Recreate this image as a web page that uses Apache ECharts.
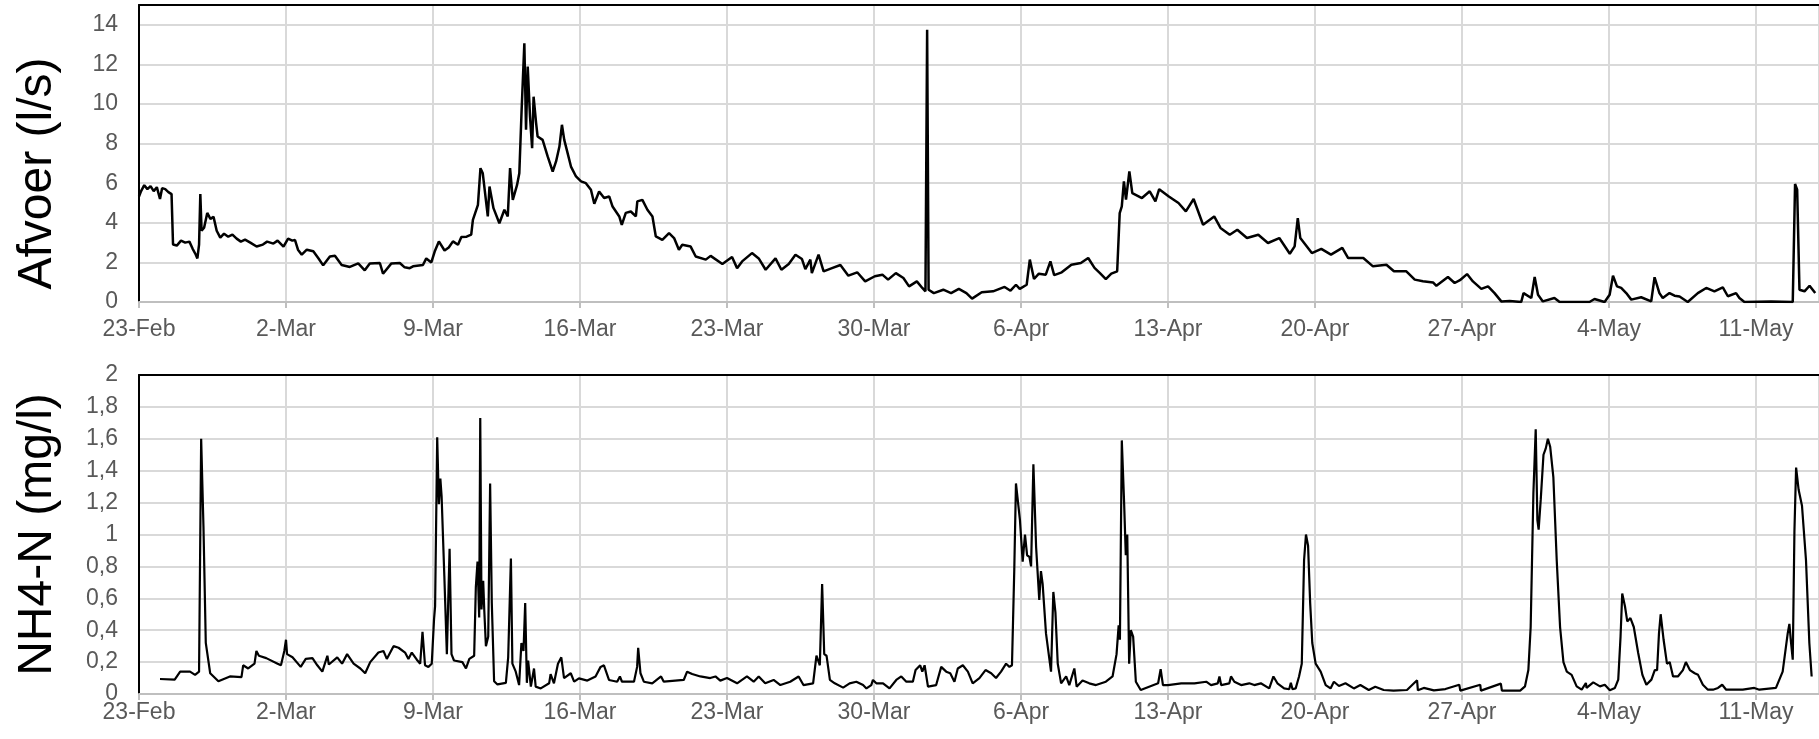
<!DOCTYPE html>
<html>
<head>
<meta charset="utf-8">
<title>Afvoer en NH4-N</title>
<script src="https://cdn.jsdelivr.net/npm/echarts@6/dist/echarts.min.js"></script>
<style>
  html, body { margin: 0; padding: 0; background: #fff; overflow: hidden; }
  #chart { width: 1819px; height: 739px; }
</style>
</head>
<body>
<div id="chart"></div>
<script>
// x-as in dagen vanaf 23-Feb, weekticks
const dateLabels = ['23-Feb', '2-Mar', '9-Mar', '16-Mar', '23-Mar', '30-Mar', '6-Apr', '13-Apr', '20-Apr', '27-Apr', '4-May', '11-May'];

// afvoer (l/s): [dag, waarde]
const afvoerData = [
  [0.0, 5.33], [0.1, 5.6], [0.25, 5.9], [0.4, 5.7], [0.55, 5.85], [0.7, 5.6], [0.85, 5.8], [1.0, 5.2], [1.1, 5.75],
  [1.25, 5.7], [1.4, 5.55], [1.55, 5.45], [1.62, 2.9], [1.8, 2.85], [2.0, 3.1], [2.2, 3.0], [2.4, 3.05], [2.55, 2.7],
  [2.7, 2.4], [2.78, 2.2], [2.86, 2.9], [2.92, 5.45], [2.98, 3.6], [3.1, 3.75], [3.25, 4.5], [3.4, 4.2], [3.55, 4.3],
  [3.7, 3.6], [3.87, 3.25], [4.05, 3.45], [4.25, 3.3], [4.45, 3.4], [4.65, 3.2], [4.85, 3.05], [5.05, 3.15], [5.3, 3.0],
  [5.6, 2.8], [5.9, 2.9], [6.1, 3.05], [6.4, 2.95], [6.6, 3.1], [6.88, 2.8], [7.1, 3.2], [7.3, 3.1], [7.43, 3.13],
  [7.57, 2.64], [7.75, 2.39], [7.99, 2.64], [8.3, 2.56], [8.55, 2.2], [8.77, 1.85], [9.09, 2.3], [9.33, 2.33],
  [9.65, 1.87], [10.04, 1.77], [10.44, 1.95], [10.75, 1.6], [10.99, 1.95], [11.47, 1.97], [11.62, 1.43], [12.02, 1.95],
  [12.42, 1.97], [12.65, 1.75], [12.89, 1.71], [13.05, 1.8], [13.52, 1.87], [13.68, 2.2], [13.92, 2.0], [14.08, 2.55],
  [14.28, 3.06], [14.55, 2.6], [14.75, 2.75], [14.95, 3.06], [15.19, 2.89], [15.35, 3.28], [15.6, 3.3], [15.82, 3.4],
  [15.9, 4.15], [16.14, 4.91], [16.26, 6.76], [16.37, 6.5], [16.61, 4.32], [16.69, 5.83], [16.88, 4.74], [17.16, 3.98],
  [17.4, 4.66], [17.56, 4.32], [17.67, 6.76], [17.8, 5.16], [18.0, 5.9], [18.11, 6.5], [18.22, 9.7], [18.35, 13.07],
  [18.43, 8.7], [18.51, 11.89], [18.62, 9.36], [18.72, 7.77], [18.79, 10.37], [18.91, 9.03], [18.98, 8.36], [19.22, 8.19],
  [19.46, 7.35], [19.7, 6.59], [19.86, 7.1], [20.02, 7.85], [20.14, 8.95], [20.25, 8.19], [20.41, 7.52], [20.57, 6.84],
  [20.81, 6.34], [21.05, 6.09], [21.28, 6.0], [21.52, 5.67], [21.68, 4.96], [21.91, 5.58], [22.15, 5.25], [22.39, 5.33],
  [22.55, 4.82], [22.87, 4.32], [22.99, 3.9], [23.18, 4.5], [23.42, 4.57], [23.66, 4.32], [23.73, 5.08], [23.97, 5.16],
  [24.21, 4.66], [24.45, 4.32], [24.61, 3.31], [24.92, 3.14], [25.24, 3.48], [25.48, 3.23], [25.71, 2.64], [25.87, 2.89],
  [26.27, 2.8], [26.51, 2.3], [26.99, 2.14], [27.22, 2.33], [27.78, 1.92], [28.24, 2.27], [28.48, 1.71], [28.72, 2.05],
  [29.19, 2.47], [29.51, 2.2], [29.84, 1.63], [30.31, 2.2], [30.59, 1.63], [30.94, 1.92], [31.26, 2.39], [31.57, 2.17],
  [31.73, 1.66], [31.97, 2.14], [32.04, 1.46], [32.36, 2.39], [32.6, 1.55], [33.0, 1.71], [33.4, 1.87], [33.78, 1.33],
  [34.2, 1.5], [34.58, 1.04], [35.04, 1.3], [35.4, 1.38], [35.67, 1.13], [36.04, 1.46], [36.4, 1.21], [36.67, 0.79],
  [37.04, 1.04], [37.3, 0.71], [37.45, 0.54], [37.53, 13.75], [37.6, 0.62], [37.85, 0.45], [38.3, 0.62], [38.67, 0.45],
  [39.04, 0.66], [39.4, 0.45], [39.67, 0.17], [40.13, 0.49], [40.67, 0.54], [41.22, 0.76], [41.5, 0.57], [41.76, 0.87],
  [41.94, 0.66], [42.27, 0.87], [42.42, 2.14], [42.62, 1.16], [42.85, 1.43], [43.18, 1.38], [43.4, 2.05], [43.58, 1.36],
  [43.94, 1.5], [44.4, 1.88], [44.85, 1.97], [45.2, 2.22], [45.5, 1.72], [45.76, 1.46], [46.04, 1.16], [46.3, 1.43],
  [46.58, 1.55], [46.7, 4.49], [46.8, 4.83], [46.9, 6.09], [47.0, 5.17], [47.16, 6.6], [47.3, 5.5], [47.76, 5.25],
  [48.13, 5.59], [48.4, 5.08], [48.58, 5.7], [49.04, 5.33], [49.5, 5.0], [49.85, 4.58], [50.22, 5.2], [50.67, 3.9],
  [51.2, 4.32], [51.5, 3.74], [51.94, 3.4], [52.3, 3.65], [52.76, 3.23], [53.3, 3.4], [53.76, 2.98], [54.3, 3.23],
  [54.8, 2.44], [55.03, 2.81], [55.18, 4.24], [55.3, 3.23], [55.85, 2.47], [56.3, 2.68], [56.76, 2.39], [57.3, 2.73],
  [57.58, 2.22], [58.3, 2.22], [58.76, 1.8], [59.4, 1.88], [59.76, 1.55], [60.35, 1.55], [60.75, 1.13], [61.14, 1.05],
  [61.62, 0.99], [61.78, 0.82], [62.33, 1.26], [62.65, 0.96], [62.9, 1.1], [63.24, 1.41], [63.52, 1.04], [63.92, 0.66],
  [64.24, 0.79], [64.55, 0.45], [64.87, 0.03], [65.27, 0.05], [65.82, 0], [65.93, 0.45], [66.3, 0.2], [66.46, 1.26],
  [66.62, 0.37], [66.85, 0.03], [67.4, 0.2], [67.65, 0], [69.07, 0], [69.31, 0.15], [69.79, 0], [70.03, 0.37],
  [70.19, 1.33], [70.38, 0.79], [70.58, 0.71], [70.82, 0.45], [71.06, 0.12], [71.53, 0.24], [72.01, 0.03], [72.17, 1.25],
  [72.4, 0.45], [72.56, 0.2], [72.88, 0.45], [73.12, 0.32], [73.36, 0.28], [73.75, 0], [74.23, 0.45], [74.63, 0.71],
  [75.02, 0.54], [75.42, 0.74], [75.66, 0.29], [76.05, 0.45], [76.21, 0.2], [76.45, 0], [77.72, 0.03], [78.75, 0],
  [78.86, 5.96], [78.96, 5.67], [79.07, 0.62], [79.31, 0.54], [79.55, 0.82], [79.82, 0.45]
];

// NH4-N (mg/l): [dag, waarde]
const nh4Data = [
  [1.0, 0.094], [1.7, 0.09], [1.96, 0.14], [2.43, 0.14], [2.67, 0.12], [2.86, 0.14], [2.96, 1.6], [3.07, 1.05],
  [3.18, 0.32], [3.39, 0.13], [3.78, 0.08], [4.33, 0.11], [4.88, 0.106], [4.96, 0.18], [5.2, 0.16], [5.5, 0.19],
  [5.59, 0.27], [5.71, 0.24], [6.06, 0.225], [6.6, 0.19], [6.76, 0.18], [6.92, 0.27], [7.0, 0.34], [7.05, 0.25],
  [7.31, 0.23], [7.7, 0.17], [7.94, 0.22], [8.26, 0.225], [8.49, 0.18], [8.73, 0.14], [8.97, 0.24], [9.04, 0.185],
  [9.44, 0.23], [9.67, 0.19], [9.91, 0.25], [10.22, 0.19], [10.54, 0.16], [10.77, 0.13], [11.01, 0.2], [11.4, 0.26],
  [11.64, 0.27], [11.8, 0.22], [12.12, 0.3], [12.36, 0.29], [12.67, 0.26], [12.83, 0.22], [12.99, 0.26], [13.23, 0.215],
  [13.39, 0.19], [13.5, 0.39], [13.62, 0.18], [13.78, 0.17], [13.94, 0.19], [14.05, 0.47], [14.1, 0.55], [14.2, 1.61],
  [14.28, 1.19], [14.35, 1.35], [14.41, 1.24], [14.54, 0.74], [14.66, 0.25], [14.74, 0.24], [14.79, 0.91], [14.88, 0.25],
  [15.0, 0.21], [15.4, 0.2], [15.57, 0.16], [15.73, 0.22], [15.96, 0.24], [16.04, 0.67], [16.12, 0.83], [16.2, 0.48],
  [16.25, 1.73], [16.31, 0.53], [16.39, 0.71], [16.44, 0.53], [16.52, 0.3], [16.63, 0.36], [16.72, 1.32], [16.8, 0.57],
  [16.91, 0.08], [17.07, 0.06], [17.47, 0.07], [17.58, 0.23], [17.71, 0.85], [17.78, 0.19], [17.94, 0.14], [18.1, 0.056],
  [18.21, 0.32], [18.31, 0.27], [18.39, 0.57], [18.47, 0.07], [18.53, 0.21], [18.66, 0.046], [18.81, 0.16], [18.89, 0.046],
  [19.13, 0.035], [19.53, 0.067], [19.6, 0.125], [19.76, 0.067], [19.95, 0.19], [20.11, 0.23], [20.24, 0.1], [20.56, 0.13],
  [20.72, 0.077], [20.95, 0.098], [21.35, 0.084], [21.74, 0.11], [21.98, 0.17], [22.14, 0.18], [22.38, 0.088], [22.77, 0.077],
  [22.9, 0.11], [23.0, 0.077], [23.57, 0.077], [23.72, 0.17], [23.77, 0.29], [23.88, 0.13], [24.04, 0.077], [24.44, 0.067],
  [24.86, 0.11], [24.99, 0.077], [25.94, 0.088], [26.1, 0.14], [26.34, 0.125], [26.73, 0.11], [27.2, 0.1], [27.45, 0.11],
  [27.68, 0.084], [28.0, 0.1], [28.48, 0.067], [28.95, 0.11], [29.27, 0.077], [29.51, 0.11], [29.82, 0.067], [30.22, 0.088],
  [30.54, 0.056], [31.01, 0.077], [31.41, 0.11], [31.64, 0.056], [32.1, 0.067], [32.26, 0.24], [32.34, 0.21], [32.42, 0.18],
  [32.53, 0.69], [32.63, 0.25], [32.74, 0.24], [32.9, 0.088], [33.13, 0.067], [33.53, 0.04], [33.84, 0.067], [34.16, 0.077],
  [34.48, 0.056], [34.64, 0.035], [34.87, 0.056], [34.95, 0.088], [35.11, 0.067], [35.43, 0.067], [35.74, 0.035], [36.06, 0.088],
  [36.3, 0.11], [36.54, 0.077], [36.85, 0.077], [36.98, 0.15], [37.2, 0.18], [37.3, 0.14], [37.41, 0.18], [37.57, 0.046],
  [37.96, 0.056], [38.2, 0.17], [38.44, 0.14], [38.63, 0.13], [38.83, 0.077], [38.99, 0.16], [39.23, 0.18], [39.47, 0.14],
  [39.7, 0.067], [40.02, 0.1], [40.31, 0.15], [40.58, 0.13], [40.81, 0.1], [41.05, 0.14], [41.29, 0.19], [41.45, 0.17],
  [41.57, 0.18], [41.68, 0.78], [41.76, 1.32], [41.84, 1.33], [41.95, 1.09], [42.08, 0.83], [42.19, 1.0], [42.29, 0.87],
  [42.4, 0.86], [42.48, 0.8], [42.59, 1.44], [42.72, 0.92], [42.87, 0.59], [42.95, 0.77], [43.03, 0.69], [43.19, 0.38],
  [43.43, 0.14], [43.54, 0.64], [43.64, 0.51], [43.75, 0.19], [43.91, 0.067], [44.15, 0.11], [44.3, 0.056], [44.54, 0.16],
  [44.65, 0.046], [44.93, 0.084], [45.25, 0.067], [45.57, 0.056], [46.04, 0.077], [46.36, 0.11], [46.55, 0.25], [46.65, 0.43],
  [46.71, 0.34], [46.8, 1.59], [46.91, 1.2], [46.99, 0.87], [47.06, 1.0], [47.15, 0.19], [47.23, 0.4], [47.34, 0.36],
  [47.47, 0.077], [47.7, 0.025], [48.1, 0.046], [48.53, 0.067], [48.65, 0.155], [48.76, 0.056], [49.0, 0.056], [49.63, 0.067],
  [50.26, 0.067], [50.82, 0.077], [50.9, 0.088], [51.05, 0.056], [51.37, 0.067], [51.45, 0.11], [51.53, 0.056], [51.92, 0.067],
  [52.0, 0.11], [52.16, 0.077], [52.48, 0.056], [52.87, 0.067], [53.11, 0.056], [53.42, 0.067], [53.82, 0.035], [54.02, 0.11],
  [54.21, 0.067], [54.53, 0.035], [54.77, 0.03], [54.85, 0.07], [54.93, 0.03], [55.08, 0.035], [55.24, 0.11], [55.37, 0.19],
  [55.48, 0.84], [55.57, 1.0], [55.67, 0.93], [55.77, 0.57], [55.87, 0.32], [56.03, 0.19], [56.27, 0.14], [56.51, 0.056],
  [56.74, 0.035], [56.9, 0.077], [57.14, 0.05], [57.45, 0.067], [57.85, 0.035], [58.16, 0.056], [58.56, 0.025], [58.87, 0.046],
  [59.27, 0.025], [59.74, 0.021], [60.38, 0.025], [60.86, 0.086], [60.9, 0.023], [61.18, 0.038], [61.66, 0.023], [62.21, 0.031],
  [62.87, 0.058], [62.92, 0.021], [63.87, 0.058], [63.9, 0.021], [64.85, 0.065], [64.9, 0.021], [65.77, 0.021], [66.0, 0.048],
  [66.16, 0.15], [66.27, 0.42], [66.4, 1.26], [66.51, 1.66], [66.59, 1.09], [66.65, 1.03], [66.75, 1.22], [66.88, 1.5],
  [66.99, 1.54], [67.09, 1.6], [67.2, 1.55], [67.35, 1.36], [67.51, 0.84], [67.67, 0.42], [67.83, 0.2], [67.99, 0.14],
  [68.22, 0.12], [68.46, 0.048], [68.7, 0.027], [68.9, 0.069], [68.93, 0.038], [69.25, 0.073], [69.57, 0.048], [69.8, 0.058],
  [70.04, 0.023], [70.28, 0.038], [70.44, 0.09], [70.55, 0.36], [70.63, 0.63], [70.76, 0.55], [70.87, 0.455], [71.02, 0.476],
  [71.18, 0.42], [71.39, 0.257], [71.59, 0.12], [71.78, 0.058], [72.02, 0.09], [72.18, 0.15], [72.29, 0.15], [72.38, 0.38],
  [72.46, 0.5], [72.6, 0.34], [72.76, 0.19], [72.89, 0.2], [73.05, 0.11], [73.28, 0.11], [73.52, 0.15], [73.66, 0.2],
  [73.85, 0.15], [74.08, 0.13], [74.24, 0.12], [74.47, 0.058], [74.71, 0.027], [74.95, 0.027], [75.19, 0.038], [75.39, 0.058],
  [75.58, 0.027], [76.37, 0.027], [76.92, 0.038], [77.16, 0.027], [77.95, 0.038], [78.27, 0.14], [78.51, 0.38], [78.59, 0.44],
  [78.67, 0.32], [78.75, 0.215], [78.83, 1.02], [78.91, 1.42], [79.03, 1.28], [79.19, 1.18], [79.38, 0.84], [79.54, 0.32],
  [79.65, 0.11]
];

const xMax = 80;
const fontFamily = "'Liberation Sans', Arial, sans-serif";
const labelColor = '#595959';
const gridColor = '#d9d9d9';
const axisGray = '#bfbfbf';

const chart = echarts.init(document.getElementById('chart'));

function dateAxis(gridIndex, margin) {
    return {
        type: 'value',
        gridIndex: gridIndex,
        min: 0,
        max: xMax,
        interval: 7,
        axisLine: { show: true, onZero: false, lineStyle: { color: axisGray, width: 2 } },
        axisTick: { show: true, length: 6, lineStyle: { color: axisGray, width: 2 } },
        axisLabel: {
            margin: margin,
            fontSize: 23,
            color: labelColor,
            fontFamily: fontFamily,
            showMaxLabel: false,
            formatter: v => dateLabels[Math.round(v / 7)] || ''
        },
        splitLine: { show: true, lineStyle: { color: gridColor, width: 2 } }
    };
}

// alleen de zwarte bovenrand van het plotvlak
function topBorder(gridIndex) {
    return {
        type: 'value',
        gridIndex: gridIndex,
        position: 'top',
        min: 0,
        max: xMax,
        z: 5,
        axisLine: { show: true, onZero: false, lineStyle: { color: '#000', width: 2 } },
        axisTick: { show: false },
        axisLabel: { show: false },
        splitLine: { show: false }
    };
}

function valueAxis(gridIndex, max, interval, name, pad, formatter) {
    return {
        type: 'value',
        gridIndex: gridIndex,
        min: 0,
        max: max,
        interval: interval,
        name: name,
        nameLocation: 'middle',
        nameGap: 77,
        nameTextStyle: { fontSize: 48, color: '#000', fontFamily: fontFamily, padding: pad },
        axisLine: { show: true, onZero: false, lineStyle: { color: '#000', width: 2 } },
        axisTick: { show: false },
        axisLabel: {
            margin: 21,
            fontSize: 23,
            color: labelColor,
            fontFamily: fontFamily,
            showMaxLabel: max === 2,
            formatter: formatter
        },
        splitLine: { show: true, lineStyle: { color: gridColor, width: 2 } }
    };
}

const option = {
    animation: false,
    backgroundColor: '#fff',
    grid: [
        { left: 139, right: -5, top: 5, bottom: 437 },
        { left: 139, right: -5, top: 375, bottom: 45 }
    ],
    xAxis: [dateAxis(0, 16), topBorder(0), dateAxis(1, 7), topBorder(1)],
    yAxis: [
        valueAxis(0, 15, 2, 'Afvoer (l/s)', [0, 40, 0, 0], v => String(v)),
        valueAxis(1, 2, 0.2, 'NH4-N (mg/l)', [0, 0, 0, 0], v => String(+v.toFixed(1)).replace('.', ','))
    ],
    series: [
        {
            name: 'Afvoer',
            type: 'line',
            xAxisIndex: 0,
            yAxisIndex: 0,
            data: afvoerData,
            symbol: 'none',
            lineStyle: { color: '#000', width: 2.5 }
        },
        {
            name: 'NH4-N',
            type: 'line',
            xAxisIndex: 2,
            yAxisIndex: 1,
            data: nh4Data,
            symbol: 'none',
            lineStyle: { color: '#000', width: 2.2 }
        }
    ]
};

chart.setOption(option);
</script>
</body>
</html>
